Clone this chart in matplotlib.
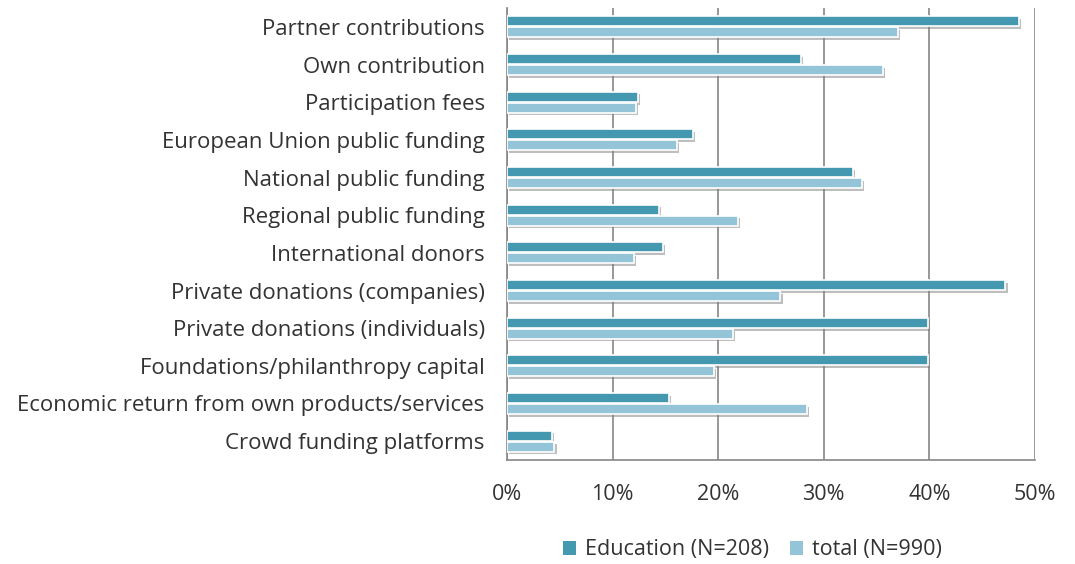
import numpy as np
import matplotlib
matplotlib.use("Agg")
import matplotlib.pyplot as plt
import matplotlib.patheffects as pe
from matplotlib.patches import Patch

categories = ["Partner contributions", "Own contribution", "Participation fees",
              "European Union public funding", "National public funding",
              "Regional public funding", "International donors",
              "Private donations (companies)", "Private donations (individuals)",
              "Foundations/philanthropy capital",
              "Economic return from own products/services",
              "Crowd funding platforms"]
education = [48.5, 27.8, 12.4, 17.6, 32.8, 14.4, 14.8, 47.2, 39.9, 39.9, 15.3, 4.3]
total = [37.0, 35.6, 12.2, 16.1, 33.6, 21.9, 12.0, 25.9, 21.4, 19.6, 28.4, 4.5]
ticks = [0, 10, 20, 30, 40, 50]

c_edu = '#4499b1'
c_tot = '#93c4d7'

plt.rcParams['font.family'] = ['Open Sans', 'DejaVu Sans']

fig = plt.figure(figsize=(10.75, 5.64), dpi=100)
ax = fig.add_axes([0.4716, 0.1844, 0.4912, 0.8014])

y = np.arange(len(categories))
h = 0.27
shadow = [pe.SimplePatchShadow(offset=(1.5, -2), shadow_rgbFace='#7f7f7f', alpha=0.5), pe.Normal()]
b1 = ax.barh(y - h / 2 - 0.01, education, height=h, color=c_edu, edgecolor='white', linewidth=1.2, zorder=3)
b2 = ax.barh(y + h / 2 + 0.01, total, height=h, color=c_tot, edgecolor='white', linewidth=1.2, zorder=3)
for b in list(b1) + list(b2):
    b.set_path_effects(shadow)

ax.set_xlim(0, 50)
ax.set_ylim(len(categories) - 0.5, -0.5)
ax.set_xticks(ticks)
ax.set_xticklabels([f"{t}%" for t in ticks], fontsize=15.5, color='#333333')
ax.set_yticks(y)
ax.set_yticklabels(categories, fontsize=16, color='#333333')
ax.tick_params(axis='x', length=0, pad=17)
ax.tick_params(axis='y', length=0, pad=16)
ax.grid(axis='x', color='#868686', linewidth=1.2, zorder=0)
for s in ['top', 'right']:
    ax.spines[s].set_visible(False)
for s in ['left', 'bottom']:
    ax.spines[s].set_color('#868686')
    ax.spines[s].set_linewidth(1.2)

handles = [Patch(facecolor=c_edu, label='Education (N=208)'),
           Patch(facecolor=c_tot, label='total (N=990)')]
fig.legend(handles=handles, loc='center', bbox_to_anchor=(0.70, 0.025), ncol=2, frameon=False,
           fontsize=15.5, handlelength=0.6, handleheight=0.6, handletextpad=0.4, columnspacing=1.0,
           labelcolor='#333333')

fig.savefig("out.png", dpi=100)
